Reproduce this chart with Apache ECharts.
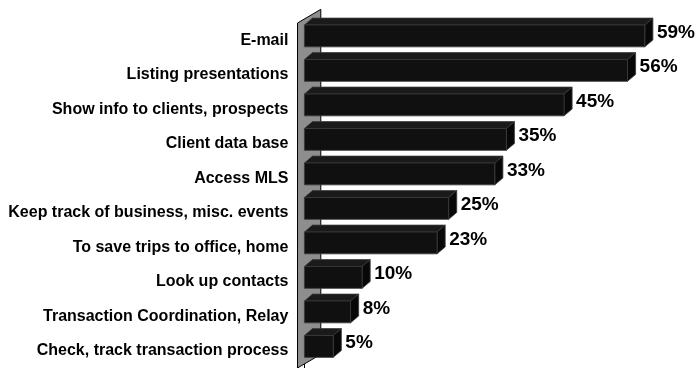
<!DOCTYPE html>
<html>
<head>
<meta charset="utf-8">
<script src="https://cdn.jsdelivr.net/npm/echarts@6/dist/echarts.min.js"></script>
<style>
  html, body { margin: 0; padding: 0; background: #fff; }
  #chart { width: 700px; height: 368px; }
</style>
</head>
<body>
<div id="chart"></div>
<script>
// Uses of the handheld device, share of respondents (%)
const categories = [
  'E-mail',
  'Listing presentations',
  'Show info to clients, prospects',
  'Client data base',
  'Access MLS',
  'Keep track of business, misc. events',
  'To save trips to office, home',
  'Look up contacts',
  'Transaction Coordination, Relay',
  'Check, track transaction process'
];
const values = [59, 56, 45, 35, 33, 25, 23, 10, 8, 5];
const valueMax = 65;

const FONT = '"Liberation Sans", Arial, Helvetica, sans-serif';

const chart = echarts.init(document.getElementById('chart'), null, { renderer: 'canvas' });

// grey back wall of the 3D plot, drawn behind the bars
function renderWall(params, api) {
  const cs = params.coordSys;
  const band = api.size([0, 1])[1];
  const zeroX = api.coord([0, 0])[0];
  const fx = zeroX - band * 0.2;
  const bx = fx + band * 0.675;
  const wdy = band * 0.395;
  const top = cs.y, bottom = cs.y + cs.height;
  return {
    type: 'polygon',
    shape: { points: [[fx, top], [bx, top - wdy], [bx, bottom - wdy], [fx, bottom]] },
    style: { fill: '#8e8e8e', stroke: '#000', lineWidth: 1 }
  };
}

// 3D box bar: front face, top face, right side and value label
function renderBar(params, api) {
  const v = api.value(0);
  const idx = api.value(1);
  const p0 = api.coord([0, idx]);
  const p1 = api.coord([v, idx]);
  const band = api.size([0, 1])[1];
  const c = p0[1];
  const ft = c - band * 0.442;
  const fb = c + band * 0.192;
  const dx = band * 0.235;
  const dy = band * 0.2;
  const x0 = p0[0], x1 = p1[0];
  const edge = '#3a3a3a';
  return {
    type: 'group',
    children: [
      {
        type: 'polygon',
        shape: { points: [[x0, ft], [x0 + dx, ft - dy], [x1 + dx, ft - dy], [x1, ft]] },
        style: { fill: '#1a1a1a', stroke: edge, lineWidth: 0.8 }
      },
      {
        type: 'polygon',
        shape: { points: [[x1, ft], [x1 + dx, ft - dy], [x1 + dx, fb - dy], [x1, fb]] },
        style: { fill: '#080808', stroke: edge, lineWidth: 0.8 }
      },
      {
        type: 'rect',
        shape: { x: x0, y: ft, width: x1 - x0, height: fb - ft },
        style: { fill: '#101010', stroke: edge, lineWidth: 0.8 }
      },
      {
        type: 'text',
        x: x1 + dx + 4,
        y: (ft - dy + fb) / 2,
        style: {
          text: v + '%',
          fill: '#000',
          font: 'bold 19px ' + FONT,
          textAlign: 'left',
          textVerticalAlign: 'middle'
        }
      }
    ]
  };
}

chart.setOption({
  animation: false,
  backgroundColor: '#fff',
  grid: { left: 304.4, top: 23, width: 375, height: 347, containLabel: false },
  xAxis: {
    type: 'value',
    min: 0,
    max: valueMax,
    show: false
  },
  yAxis: {
    type: 'category',
    data: categories,
    inverse: true,
    offset: 7,
    axisLine: { show: true, lineStyle: { color: '#000', width: 1 } },
    axisTick: { show: true, length: 7, interval: 0, lineStyle: { color: '#000', width: 1 } },
    axisLabel: {
      interval: 0,
      margin: 9,
      color: '#000',
      fontFamily: FONT,
      fontWeight: 'bold',
      fontSize: 16
    },
    splitLine: { show: false }
  },
  series: [
    {
      type: 'custom',
      name: 'wall',
      renderItem: renderWall,
      data: [[0, 0]],
      encode: { x: 0, y: 1 },
      clip: false,
      silent: true,
      z: 1
    },
    {
      type: 'custom',
      name: 'bars',
      renderItem: renderBar,
      data: values.map((v, i) => [v, i]),
      encode: { x: 0, y: 1 },
      clip: false,
      z: 2
    }
  ]
});
</script>
</body>
</html>
